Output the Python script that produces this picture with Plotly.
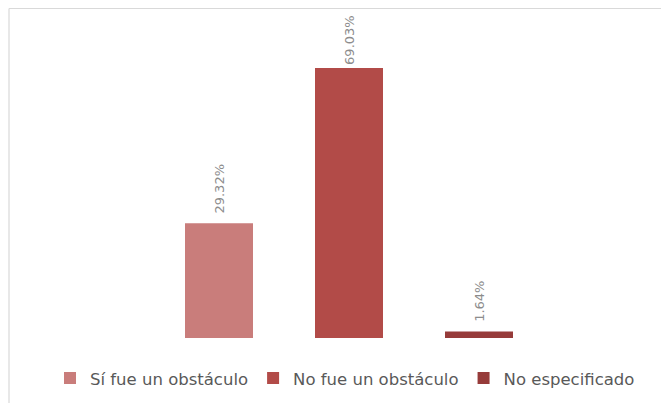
import plotly.graph_objects as go

series_names = ["Sí fue un obstáculo", "No fue un obstáculo", "No especificado"]
values = [29.32, 69.03, 1.64]
colors = ["#C97D7B", "#B24B48", "#963B3A"]
category = [""]

# the page has an 8px body margin; figure coordinates are page coordinates - 8
W, H = 669, 403
ml, mr, mt, mb = 30, 17, 17, 73
pw, ph = W - ml - mr, H - mt - mb

FONT = "DejaVu Sans"

fig = go.Figure()
for name, v, c in zip(series_names, values, colors):
    # tallest label sits tight against its bar so it stays inside the chart
    pad = "" if v == max(values) else "\u00a0\u2009"
    fig.add_trace(go.Bar(
        x=category, y=[v], name=name, marker_color=c, marker_line_width=0,
        text=[f"{v:.2f}%"], texttemplate=pad + "%{text}",
        textposition="outside", textangle=-90, cliponaxis=False,
        textfont=dict(color="#8C8C8C", size=13, family=FONT),
    ))

# chart border (top and left edges visible in crop)
bx = (1 - ml) / pw
by = (ph + mt - 0.5) / ph
fig.add_shape(type="line", xref="paper", yref="paper", x0=bx, x1=(W - ml) / pw, y0=by, y1=by,
              line=dict(color="#D9D9D9", width=1.2))
fig.add_shape(type="line", xref="paper", yref="paper", x0=bx, x1=bx, y0=by, y1=-(mb) / ph,
              line=dict(color="#D9D9D9", width=1.2))

fig.update_layout(
    width=W, height=H,
    margin=dict(l=ml, r=mr, t=mt, b=mb),
    paper_bgcolor="white", plot_bgcolor="white",
    barmode="group", bargap=1 - 390 / pw, bargroupgap=1 - 68 / 130,
    showlegend=True,
    legend=dict(orientation="h", x=0.5 - 4 / pw, xanchor="center", y=-0.073, yanchor="top",
                font=dict(color="#595959", size=16.5, family=FONT),
                itemwidth=30, traceorder="normal"),
    xaxis=dict(visible=False),
    yaxis=dict(visible=False, range=[0, 80]),
    font=dict(family=FONT),
)
fig.write_html("out.html")
